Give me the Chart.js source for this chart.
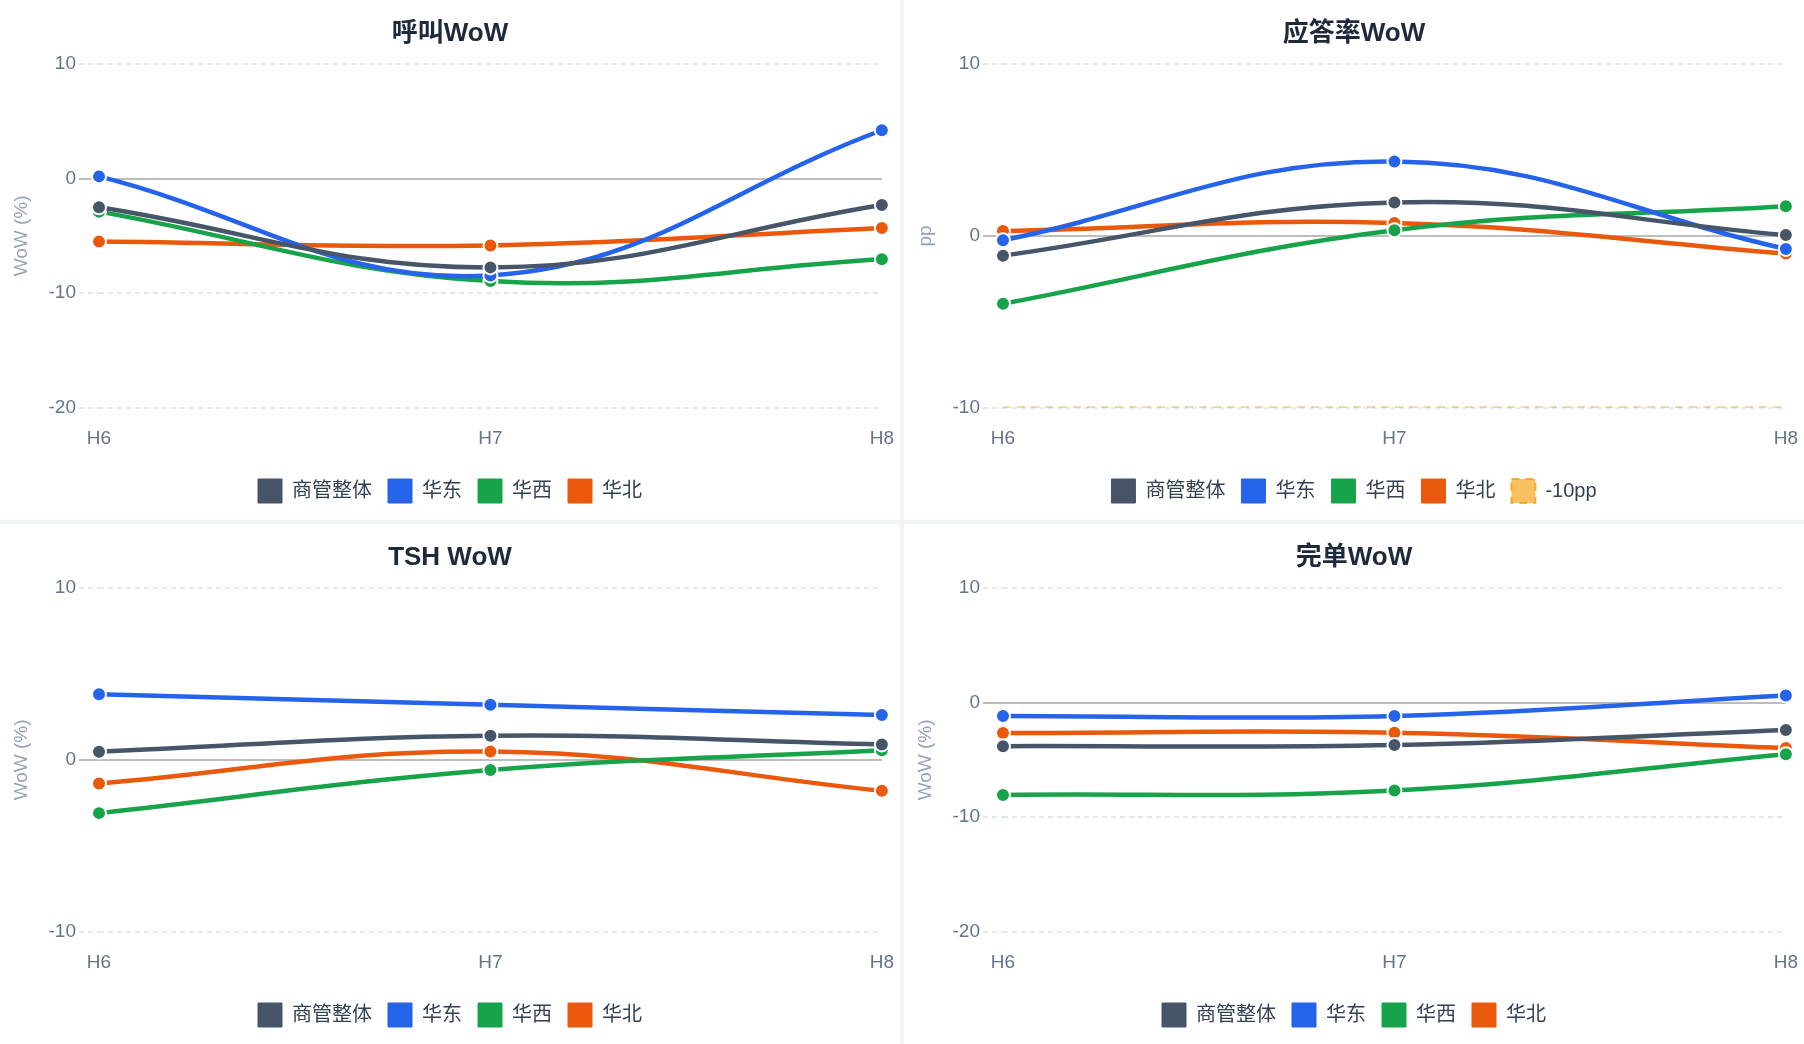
<!DOCTYPE html>
<html><head><meta charset="utf-8">
<script src="https://cdn.jsdelivr.net/npm/chart.js@4.4.1/dist/chart.umd.min.js"></script>
<style>
html,body{margin:0;padding:0;background:#f1f5f9;}
#grid{display:grid;grid-template-columns:900px 900px;grid-template-rows:520px 520px;gap:4px;width:1804px;height:1044px;}
.panel{background:#fff;width:900px;height:520px;}
canvas{display:block;}
</style></head><body>
<div id="grid">
<div class="panel"><canvas id="c1" width="900" height="520"></canvas></div>
<div class="panel"><canvas id="c2" width="900" height="520"></canvas></div>
<div class="panel"><canvas id="c3" width="900" height="520"></canvas></div>
<div class="panel"><canvas id="c4" width="900" height="520"></canvas></div>
</div>
<script>
// ---- data ----
const categories = ['H6', 'H7', 'H8'];
const seriesNames = ['商管整体', '华东', '华西', '华北'];
const thresholdName = '-10pp';

// 呼叫WoW (%)
const callOverall = [-2.5, -7.75, -2.3];
const callEast    = [0.2, -8.45, 4.23];
const callWest    = [-2.88, -8.95, -7.05];
const callNorth   = [-5.5, -5.83, -4.3];

// 应答率WoW (pp)
const ansOverall = [-1.15, 1.95, 0.05];
const ansEast    = [-0.25, 4.33, -0.76];
const ansWest    = [-3.95, 0.33, 1.73];
const ansNorth   = [0.28, 0.75, -1.03];
const ansThreshold = [-10, -10, -10];

// TSH WoW (%)
const tshOverall = [0.48, 1.41, 0.9];
const tshEast    = [3.82, 3.21, 2.61];
const tshWest    = [-3.1, -0.59, 0.56];
const tshNorth   = [-1.38, 0.49, -1.8];

// 完单WoW (%)
const doneOverall = [-3.8, -3.7, -2.38];
const doneEast    = [-1.16, -1.16, 0.63];
const doneWest    = [-8.06, -7.67, -4.5];
const doneNorth   = [-2.65, -2.63, -3.97];

// ---- styling ----
const seriesColors = ['#475569', '#2563eb', '#16a34a', '#ea580c'];
Chart.defaults.font.family = '"Liberation Sans", "Noto Sans CJK SC", sans-serif';

function lineSet(label, data, color) {
  return {
    label, data,
    borderColor: color, backgroundColor: color,
    borderWidth: 4.5, tension: 0.4, fill: false,
    pointRadius: 7, pointHoverRadius: 7,
    pointBackgroundColor: color, pointBorderColor: '#ffffff', pointBorderWidth: 2
  };
}

function makeChart(id, title, yTitle, yMin, yMax, seriesData, extra) {
  const datasets = seriesData.map((d, i) => lineSet(seriesNames[i], d, seriesColors[i]));
  if (extra) datasets.push(extra);
  const isZero = ctx => ctx.tick && ctx.tick.value === 0;
  return new Chart(document.getElementById(id), {
    type: 'line',
    data: { labels: categories, datasets },
    options: {
      responsive: false, animation: false, devicePixelRatio: 1,
      layout: { padding: { left: 0, right: 0, top: 0, bottom: 7 } },
      plugins: {
        title: { display: true, text: title, color: '#1e293b',
                 font: { size: 26, weight: 'bold' }, padding: { top: 18, bottom: 15 } },
        legend: {
          position: 'bottom',
          labels: {
            boxWidth: 24, boxHeight: 24, padding: 16, color: '#334155',
            font: { size: 20 },
            generateLabels: (chart) => Chart.defaults.plugins.legend.labels.generateLabels(chart)
              .map(l => Object.assign(l, { lineWidth: (l.lineDash && l.lineDash.length) ? 2 : 1 }))
          }
        },
        tooltip: { enabled: false }
      },
      scales: {
        x: {
          offset: false,
          afterFit: s => { s.height = 55.4; },
          grid: { display: false, drawTicks: true, tickLength: 14 },
          border: { display: false },
          ticks: { color: '#64748b', font: { size: 19 }, padding: 6 }
        },
        y: {
          min: yMin, max: yMax,
          afterFit: s => { s.width = 99; },
          title: { display: true, text: yTitle, color: '#94a3b8', font: { size: 19 }, padding: { top: 10, bottom: 0 } },
          ticks: { stepSize: 10, color: '#64748b', font: { size: 19 }, padding: 3 },
          grid: {
            color: ctx => isZero(ctx) ? '#bdbdbd' : '#e2e8f0',
            lineWidth: 2,
            tickLength: 20,
            tickBorderDash: ctx => isZero(ctx) ? [] : [5, 4]
          },
          border: { display: false, dash: ctx => isZero(ctx) ? [] : [5, 4] }
        }
      }
    }
  });
}

makeChart('c1', '呼叫WoW', 'WoW (%)', -20, 10, [callOverall, callEast, callWest, callNorth]);
makeChart('c2', '应答率WoW', 'pp', -10, 10, [ansOverall, ansEast, ansWest, ansNorth], {
  label: thresholdName, data: ansThreshold,
  borderColor: 'rgba(245,158,11,0.8)', backgroundColor: 'rgba(245,158,11,0.65)',
  borderWidth: 2, borderDash: [8, 6], pointRadius: 0, tension: 0, fill: false
});
makeChart('c3', 'TSH WoW', 'WoW (%)', -10, 10, [tshOverall, tshEast, tshWest, tshNorth]);
makeChart('c4', '完单WoW', 'WoW (%)', -20, 10, [doneOverall, doneEast, doneWest, doneNorth]);
</script>
</body></html>
